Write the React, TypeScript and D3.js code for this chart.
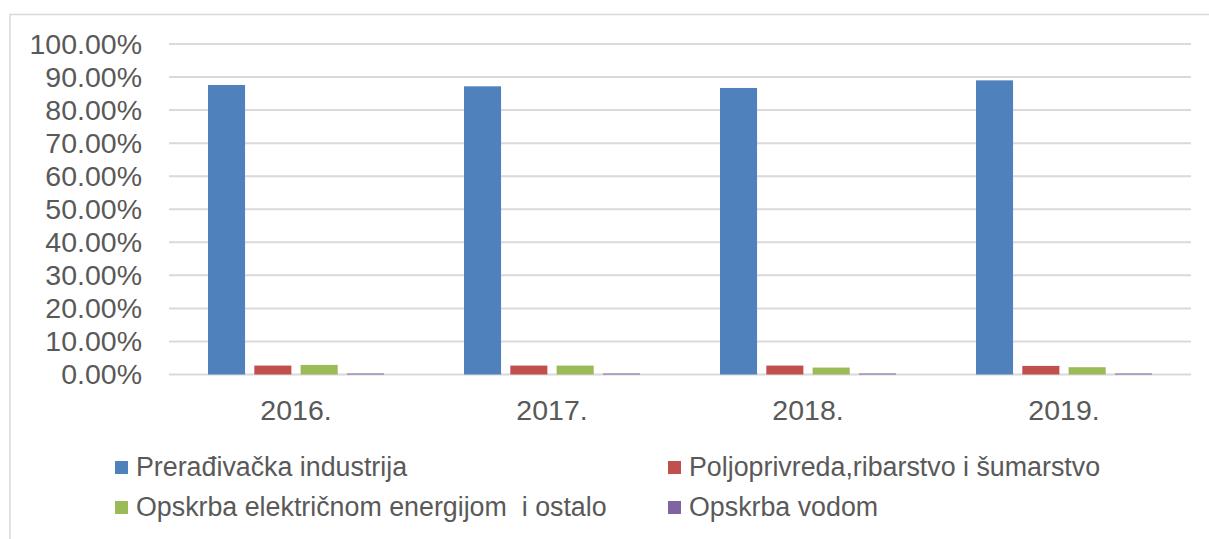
import { useRef, useEffect } from 'react'
import * as d3 from 'd3'

const years = ["2016.", "2017.", "2018.", "2019."]
const seriesNames = [
  "Prerađivačka industrija",
  "Poljoprivreda,ribarstvo i šumarstvo",
  "Opskrba električnom energijom  i ostalo",
  "Opskrba vodom",
]
const preradivacka = [0.876, 0.872, 0.867, 0.89]
const poljoprivreda = [0.027, 0.027, 0.027, 0.026]
const energija = [0.029, 0.027, 0.021, 0.022]
const voda = [0.003, 0.003, 0.003, 0.003]
const yTicks = [0, 0.1, 0.2, 0.3, 0.4, 0.5, 0.6, 0.7, 0.8, 0.9, 1.0]
const colors = ["#4F81BD", "#C0504D", "#9BBB59", "#8064A2"]

export default function App() {
  const svgRef = useRef<SVGSVGElement>(null)
  const width = 1209
  const height = 539

  useEffect(() => {
    if (!svgRef.current) return
    const svg = d3.select(svgRef.current)
    svg.selectAll("*").remove()

    const font = "'Liberation Sans', Arial, sans-serif"
    const textColor = "#595959"
    const values = [preradivacka, poljoprivreda, energija, voda]

    // outer frame (cropped on top/right like the source)
    svg.append("rect")
      .attr("x", 10).attr("y", 14.5)
      .attr("width", width + 20).attr("height", height)
      .attr("fill", "#fff")
      .attr("stroke", "#D9D9D9")
      .attr("stroke-width", 1.5)

    const x0 = d3.scaleBand<string>().domain(years).range([168, 1192]).padding(0)
    const x1 = d3.scaleBand<number>()
      .domain(d3.range(4))
      .range([40, x0.bandwidth() - 40])
      .paddingInner(0.2)
      .paddingOuter(0)
    const y = d3.scaleLinear().domain([0, 1]).range([374.5, 44])

    // gridlines
    svg.append("g")
      .selectAll("line")
      .data(yTicks)
      .enter()
      .append("line")
      .attr("x1", 169).attr("x2", 1191)
      .attr("y1", d => y(d)).attr("y2", d => y(d))
      .attr("stroke", "#D9D9D9")
      .attr("stroke-width", 2)

    // y labels
    svg.append("g")
      .selectAll("text")
      .data(yTicks)
      .enter()
      .append("text")
      .attr("x", 142)
      .attr("y", d => y(d))
      .attr("dy", "0.35em")
      .attr("text-anchor", "end")
      .attr("font-family", font)
      .attr("font-size", 28.5)
      .attr("fill", textColor)
      .text(d => d3.format(".2%")(d))

    // bars
    const groups = svg.append("g")
      .selectAll("g")
      .data(years)
      .enter()
      .append("g")
      .attr("transform", d => `translate(${x0(d)},0)`)

    groups.selectAll("rect")
      .data((_, i) => values.map((s, k) => ({ k, v: s[i] })))
      .enter()
      .append("rect")
      .attr("x", d => x1(d.k) || 0)
      .attr("y", d => y(d.v))
      .attr("width", x1.bandwidth())
      .attr("height", d => y(0) - y(d.v))
      .attr("fill", d => colors[d.k])

    // x labels
    svg.append("g")
      .selectAll("text")
      .data(years)
      .enter()
      .append("text")
      .attr("x", d => (x0(d) || 0) + x0.bandwidth() / 2)
      .attr("y", 420)
      .attr("text-anchor", "middle")
      .attr("font-family", font)
      .attr("font-size", 28.5)
      .attr("fill", textColor)
      .text(d => d)

    // legend
    const legendPos = [
      { x: 115, y: 476 },
      { x: 668, y: 476 },
      { x: 115, y: 516 },
      { x: 668, y: 516 },
    ]
    const legend = svg.append("g")
      .selectAll("g")
      .data(seriesNames)
      .enter()
      .append("g")
      .attr("transform", (_, i) => `translate(${legendPos[i].x},${legendPos[i].y})`)

    legend.append("rect")
      .attr("x", 0).attr("y", -15)
      .attr("width", 13).attr("height", 13)
      .attr("fill", (_, i) => colors[i])

    legend.append("text")
      .attr("x", 21)
      .attr("y", 0)
      .attr("font-family", font)
      .attr("font-size", 26.8)
      .attr("fill", textColor)
      .style("white-space", "pre")
      .text(d => d)
  }, [])

  return (
    <svg
      ref={svgRef}
      width={width}
      height={height}
      style={{ position: 'absolute', left: 0, top: 0, display: 'block' }}
    />
  )
}
